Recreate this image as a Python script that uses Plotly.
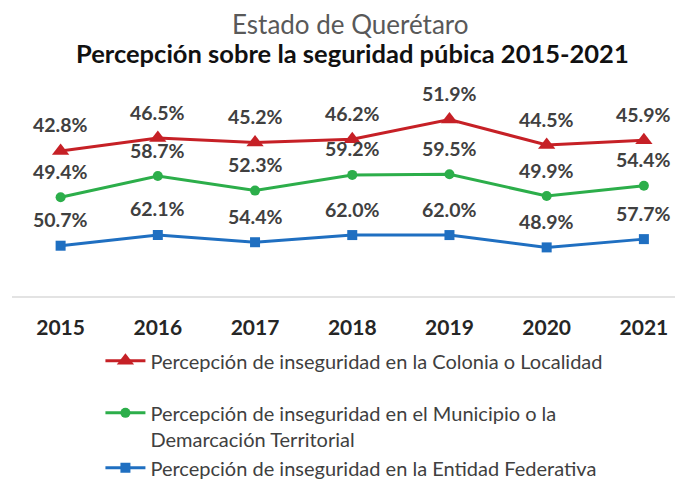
import plotly.graph_objects as go

# ---- data ----
years = ["2015", "2016", "2017", "2018", "2019", "2020", "2021"]
colonia = [42.8, 46.5, 45.2, 46.2, 51.9, 44.5, 45.9]
municipio = [49.4, 58.7, 52.3, 59.2, 59.5, 49.9, 54.4]
entidad = [50.7, 62.1, 54.4, 62.0, 62.0, 48.9, 57.7]

name_colonia = "Percepción de inseguridad en la Colonia o Localidad"
name_municipio = "Percepción de inseguridad en el Municipio o la<br>Demarcación Territorial"
name_entidad = "Percepción de inseguridad en la Entidad Federativa"

title_1 = "Estado de Querétaro"
title_2 = "Percepción sobre la seguridad púbica 2015-2021"

# ---- style ----
RED = "#c62026"
GREEN = "#2cae4a"
BLUE = "#1f6fc1"
FONT = "Lato"
W, H = 675, 482
ML, MR, MT, MB = 11.5, 0, 100, 186.3
plot_w = W - ML - MR
plot_h = H - MT - MB


def px_x(px):
    return (px - ML) / plot_w


def px_y(py):
    return (H - MB - py) / plot_h


fig = go.Figure()

series = [
    (colonia, name_colonia, RED, "triangle-up", 15, "y", "g1"),
    (municipio, name_municipio, GREEN, "circle", 10, "y2", "g2"),
    (entidad, name_entidad, BLUE, "square", 10, "y3", "g2"),
]

for vals, name, color, sym, size, yax, grp in series:
    fig.add_trace(go.Scatter(
        x=years, y=vals, name=name, yaxis=yax, legendgroup=grp,
        mode="lines+markers",
        line=dict(color=color, width=3),
        marker=dict(symbol=sym, size=size, color=color),
        hoverinfo="skip",
    ))
    # category position index (numeric strings would be read as positions)
    for idx, yv in enumerate(vals):
        fig.add_annotation(
            x=idx, y=yv, xref="x", yref=yax, text=f"{yv:.1f}%",
            showarrow=False, yshift=26,
            font=dict(family=FONT, size=19.5, color="#404040", weight="bold"),
        )

fig.add_annotation(
    x=px_x(350), y=px_y(24), xref="paper", yref="paper", text=title_1,
    showarrow=False, xanchor="center", yanchor="middle",
    font=dict(family=FONT, size=26, color="#595959"),
)
fig.add_annotation(
    x=px_x(352), y=px_y(53), xref="paper", yref="paper", text=title_2,
    showarrow=False, xanchor="center", yanchor="middle",
    font=dict(family=FONT, size=25.5, color="#111111", weight="bold"),
)

fig.update_layout(
    width=W, height=H,
    margin=dict(l=ML, r=MR, t=MT, b=MB, autoexpand=False),
    paper_bgcolor="white", plot_bgcolor="white",
    showlegend=True,
    legend=dict(
        orientation="v", x=px_x(100), y=px_y(341), xanchor="left", yanchor="top",
        traceorder="grouped", tracegroupgap=23, valign="top", itemwidth=40,
        font=dict(family=FONT, size=20, color="#404040"),
        bgcolor="rgba(0,0,0,0)",
    ),
    xaxis=dict(
        type="category", range=[-0.5, 6.32],
        showline=True, linecolor="#e3e3e3", linewidth=1.5,
        showgrid=False, zeroline=False, ticks="",
        ticklabelstandoff=12,
        tickfont=dict(family=FONT, size=21, color="#262626", weight="bold"),
    ),
    yaxis=dict(range=[0.81, 57.53], visible=False),
    yaxis2=dict(range=[5.94, 92.15], visible=False, overlaying="y"),
    yaxis3=dict(range=[-2.73, 205.5], visible=False, overlaying="y"),
)

fig.write_html(
    "out.html",
    config={"displayModeBar": False},
    post_script="document.body.style.margin='0';",
)
